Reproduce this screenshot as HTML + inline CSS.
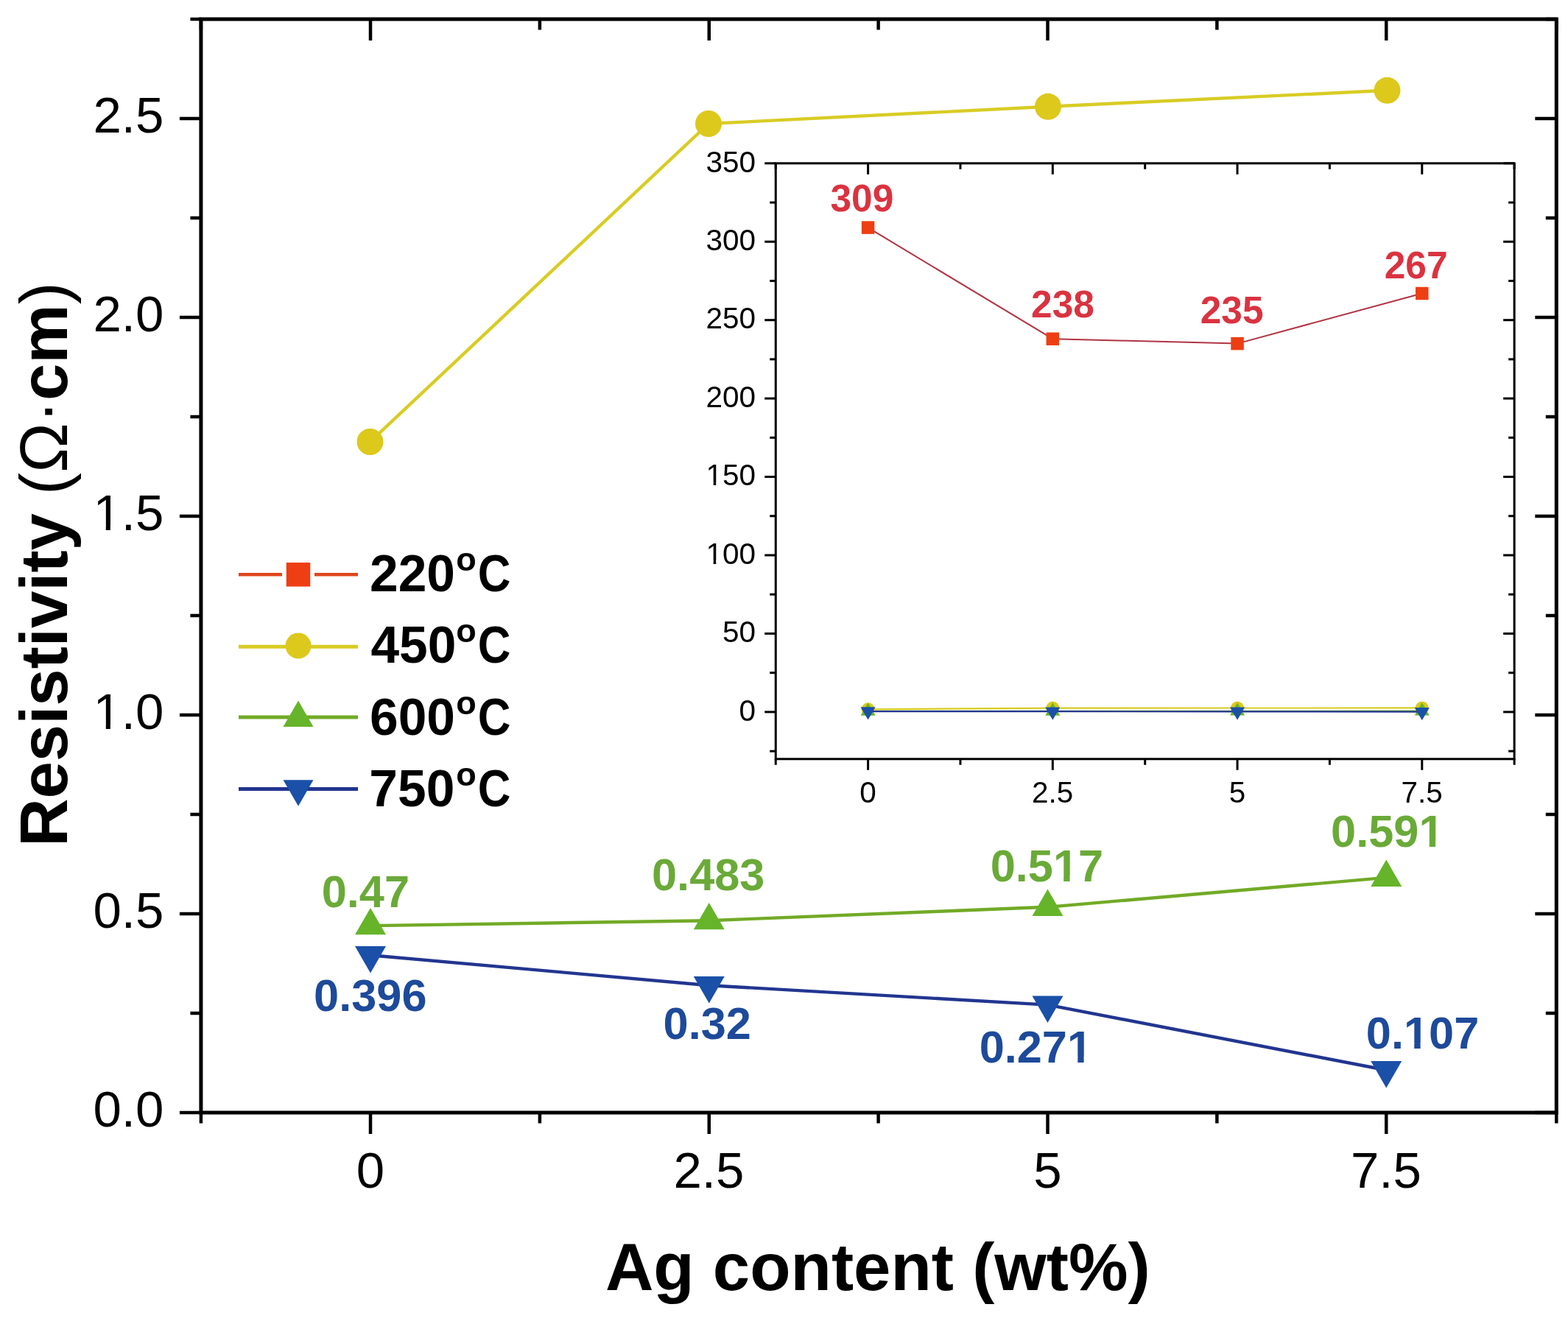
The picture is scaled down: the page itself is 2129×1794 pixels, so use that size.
<!DOCTYPE html>
<html><head><meta charset="utf-8"><title>Resistivity vs Ag content</title>
<style>
html,body{margin:0;padding:0;background:#fff;}
body{width:2129px;height:1794px;overflow:hidden;}
svg{display:block;font-family:'Liberation Sans', Arial, sans-serif;filter:blur(0.6px);}
</style></head>
<body>
<svg width="2129" height="1794" viewBox="0 0 2129 1794">
<rect x="0" y="0" width="2129" height="1794" fill="#fff"/>
<line x1="243.90" y1="1511.00" x2="272.90" y2="1511.00" stroke="#000" stroke-width="4.5" stroke-linecap="butt"/>
<line x1="2084.30" y1="1511.00" x2="2113.30" y2="1511.00" stroke="#000" stroke-width="4.5" stroke-linecap="butt"/>
<line x1="258.40" y1="1376.00" x2="272.90" y2="1376.00" stroke="#000" stroke-width="4.5" stroke-linecap="butt"/>
<line x1="2098.80" y1="1376.00" x2="2113.30" y2="1376.00" stroke="#000" stroke-width="4.5" stroke-linecap="butt"/>
<line x1="243.90" y1="1241.00" x2="272.90" y2="1241.00" stroke="#000" stroke-width="4.5" stroke-linecap="butt"/>
<line x1="2084.30" y1="1241.00" x2="2113.30" y2="1241.00" stroke="#000" stroke-width="4.5" stroke-linecap="butt"/>
<line x1="258.40" y1="1106.00" x2="272.90" y2="1106.00" stroke="#000" stroke-width="4.5" stroke-linecap="butt"/>
<line x1="2098.80" y1="1106.00" x2="2113.30" y2="1106.00" stroke="#000" stroke-width="4.5" stroke-linecap="butt"/>
<line x1="243.90" y1="971.00" x2="272.90" y2="971.00" stroke="#000" stroke-width="4.5" stroke-linecap="butt"/>
<line x1="2084.30" y1="971.00" x2="2113.30" y2="971.00" stroke="#000" stroke-width="4.5" stroke-linecap="butt"/>
<line x1="258.40" y1="836.00" x2="272.90" y2="836.00" stroke="#000" stroke-width="4.5" stroke-linecap="butt"/>
<line x1="2098.80" y1="836.00" x2="2113.30" y2="836.00" stroke="#000" stroke-width="4.5" stroke-linecap="butt"/>
<line x1="243.90" y1="701.00" x2="272.90" y2="701.00" stroke="#000" stroke-width="4.5" stroke-linecap="butt"/>
<line x1="2084.30" y1="701.00" x2="2113.30" y2="701.00" stroke="#000" stroke-width="4.5" stroke-linecap="butt"/>
<line x1="258.40" y1="566.00" x2="272.90" y2="566.00" stroke="#000" stroke-width="4.5" stroke-linecap="butt"/>
<line x1="2098.80" y1="566.00" x2="2113.30" y2="566.00" stroke="#000" stroke-width="4.5" stroke-linecap="butt"/>
<line x1="243.90" y1="431.00" x2="272.90" y2="431.00" stroke="#000" stroke-width="4.5" stroke-linecap="butt"/>
<line x1="2084.30" y1="431.00" x2="2113.30" y2="431.00" stroke="#000" stroke-width="4.5" stroke-linecap="butt"/>
<line x1="258.40" y1="296.00" x2="272.90" y2="296.00" stroke="#000" stroke-width="4.5" stroke-linecap="butt"/>
<line x1="2098.80" y1="296.00" x2="2113.30" y2="296.00" stroke="#000" stroke-width="4.5" stroke-linecap="butt"/>
<line x1="243.90" y1="161.00" x2="272.90" y2="161.00" stroke="#000" stroke-width="4.5" stroke-linecap="butt"/>
<line x1="2084.30" y1="161.00" x2="2113.30" y2="161.00" stroke="#000" stroke-width="4.5" stroke-linecap="butt"/>
<line x1="258.40" y1="26.00" x2="272.90" y2="26.00" stroke="#000" stroke-width="4.5" stroke-linecap="butt"/>
<line x1="2098.80" y1="26.00" x2="2113.30" y2="26.00" stroke="#000" stroke-width="4.5" stroke-linecap="butt"/>
<line x1="272.90" y1="1511.00" x2="272.90" y2="1525.50" stroke="#000" stroke-width="4.5" stroke-linecap="butt"/>
<line x1="272.90" y1="26.00" x2="272.90" y2="40.50" stroke="#000" stroke-width="4.5" stroke-linecap="butt"/>
<line x1="503.00" y1="1511.00" x2="503.00" y2="1540.00" stroke="#000" stroke-width="4.5" stroke-linecap="butt"/>
<line x1="503.00" y1="26.00" x2="503.00" y2="55.00" stroke="#000" stroke-width="4.5" stroke-linecap="butt"/>
<line x1="732.88" y1="1511.00" x2="732.88" y2="1525.50" stroke="#000" stroke-width="4.5" stroke-linecap="butt"/>
<line x1="732.88" y1="26.00" x2="732.88" y2="40.50" stroke="#000" stroke-width="4.5" stroke-linecap="butt"/>
<line x1="962.75" y1="1511.00" x2="962.75" y2="1540.00" stroke="#000" stroke-width="4.5" stroke-linecap="butt"/>
<line x1="962.75" y1="26.00" x2="962.75" y2="55.00" stroke="#000" stroke-width="4.5" stroke-linecap="butt"/>
<line x1="1192.62" y1="1511.00" x2="1192.62" y2="1525.50" stroke="#000" stroke-width="4.5" stroke-linecap="butt"/>
<line x1="1192.62" y1="26.00" x2="1192.62" y2="40.50" stroke="#000" stroke-width="4.5" stroke-linecap="butt"/>
<line x1="1422.50" y1="1511.00" x2="1422.50" y2="1540.00" stroke="#000" stroke-width="4.5" stroke-linecap="butt"/>
<line x1="1422.50" y1="26.00" x2="1422.50" y2="55.00" stroke="#000" stroke-width="4.5" stroke-linecap="butt"/>
<line x1="1652.38" y1="1511.00" x2="1652.38" y2="1525.50" stroke="#000" stroke-width="4.5" stroke-linecap="butt"/>
<line x1="1652.38" y1="26.00" x2="1652.38" y2="40.50" stroke="#000" stroke-width="4.5" stroke-linecap="butt"/>
<line x1="1882.25" y1="1511.00" x2="1882.25" y2="1540.00" stroke="#000" stroke-width="4.5" stroke-linecap="butt"/>
<line x1="1882.25" y1="26.00" x2="1882.25" y2="55.00" stroke="#000" stroke-width="4.5" stroke-linecap="butt"/>
<line x1="2113.30" y1="1511.00" x2="2113.30" y2="1525.50" stroke="#000" stroke-width="4.5" stroke-linecap="butt"/>
<line x1="2113.30" y1="26.00" x2="2113.30" y2="40.50" stroke="#000" stroke-width="4.5" stroke-linecap="butt"/>
<rect x="272.90" y="26.00" width="1840.40" height="1485.00" fill="none" stroke="#000" stroke-width="5.0"/>
<text x="126.45" y="1530.30" font-size="69.00" font-weight="normal" fill="#000" >0.0</text>
<text x="126.45" y="1260.30" font-size="69.00" font-weight="normal" fill="#000" >0.5</text>
<text x="126.45" y="990.30" font-size="69.00" font-weight="normal" fill="#000" >1.0</text>
<text x="126.45" y="720.30" font-size="69.00" font-weight="normal" fill="#000" >1.5</text>
<text x="126.45" y="450.30" font-size="69.00" font-weight="normal" fill="#000" >2.0</text>
<text x="126.45" y="180.30" font-size="69.00" font-weight="normal" fill="#000" >2.5</text>
<text x="483.85" y="1613.20" font-size="69.00" font-weight="normal" fill="#000" >0</text>
<text x="914.45" y="1613.20" font-size="69.00" font-weight="normal" fill="#000" >2.5</text>
<text x="1403.35" y="1613.20" font-size="69.00" font-weight="normal" fill="#000" >5</text>
<text x="1833.95" y="1613.20" font-size="69.00" font-weight="normal" fill="#000" >7.5</text>
<text x="821.93" y="1751.73" font-size="90.60" font-weight="bold" fill="#000">Ag content (wt%)</text>
<text transform="translate(90.50,1149.86) rotate(-90)" x="0" y="0" font-size="90.5" fill="#000"><tspan font-weight="bold">Resistivity </tspan><tspan font-weight="normal">(Ω·</tspan><tspan font-weight="bold">cm</tspan><tspan font-weight="normal">)</tspan></text>
<line x1="1045.24" y1="1020.12" x2="1053.24" y2="1020.12" stroke="#000" stroke-width="3.0" stroke-linecap="butt"/>
<line x1="2048.14" y1="1020.12" x2="2056.14" y2="1020.12" stroke="#000" stroke-width="3.0" stroke-linecap="butt"/>
<line x1="1038.24" y1="966.90" x2="1053.24" y2="966.90" stroke="#000" stroke-width="3.0" stroke-linecap="butt"/>
<line x1="2041.14" y1="966.90" x2="2056.14" y2="966.90" stroke="#000" stroke-width="3.0" stroke-linecap="butt"/>
<line x1="1045.24" y1="913.68" x2="1053.24" y2="913.68" stroke="#000" stroke-width="3.0" stroke-linecap="butt"/>
<line x1="2048.14" y1="913.68" x2="2056.14" y2="913.68" stroke="#000" stroke-width="3.0" stroke-linecap="butt"/>
<line x1="1038.24" y1="860.45" x2="1053.24" y2="860.45" stroke="#000" stroke-width="3.0" stroke-linecap="butt"/>
<line x1="2041.14" y1="860.45" x2="2056.14" y2="860.45" stroke="#000" stroke-width="3.0" stroke-linecap="butt"/>
<line x1="1045.24" y1="807.23" x2="1053.24" y2="807.23" stroke="#000" stroke-width="3.0" stroke-linecap="butt"/>
<line x1="2048.14" y1="807.23" x2="2056.14" y2="807.23" stroke="#000" stroke-width="3.0" stroke-linecap="butt"/>
<line x1="1038.24" y1="754.01" x2="1053.24" y2="754.01" stroke="#000" stroke-width="3.0" stroke-linecap="butt"/>
<line x1="2041.14" y1="754.01" x2="2056.14" y2="754.01" stroke="#000" stroke-width="3.0" stroke-linecap="butt"/>
<line x1="1045.24" y1="700.79" x2="1053.24" y2="700.79" stroke="#000" stroke-width="3.0" stroke-linecap="butt"/>
<line x1="2048.14" y1="700.79" x2="2056.14" y2="700.79" stroke="#000" stroke-width="3.0" stroke-linecap="butt"/>
<line x1="1038.24" y1="647.57" x2="1053.24" y2="647.57" stroke="#000" stroke-width="3.0" stroke-linecap="butt"/>
<line x1="2041.14" y1="647.57" x2="2056.14" y2="647.57" stroke="#000" stroke-width="3.0" stroke-linecap="butt"/>
<line x1="1045.24" y1="594.34" x2="1053.24" y2="594.34" stroke="#000" stroke-width="3.0" stroke-linecap="butt"/>
<line x1="2048.14" y1="594.34" x2="2056.14" y2="594.34" stroke="#000" stroke-width="3.0" stroke-linecap="butt"/>
<line x1="1038.24" y1="541.12" x2="1053.24" y2="541.12" stroke="#000" stroke-width="3.0" stroke-linecap="butt"/>
<line x1="2041.14" y1="541.12" x2="2056.14" y2="541.12" stroke="#000" stroke-width="3.0" stroke-linecap="butt"/>
<line x1="1045.24" y1="487.90" x2="1053.24" y2="487.90" stroke="#000" stroke-width="3.0" stroke-linecap="butt"/>
<line x1="2048.14" y1="487.90" x2="2056.14" y2="487.90" stroke="#000" stroke-width="3.0" stroke-linecap="butt"/>
<line x1="1038.24" y1="434.68" x2="1053.24" y2="434.68" stroke="#000" stroke-width="3.0" stroke-linecap="butt"/>
<line x1="2041.14" y1="434.68" x2="2056.14" y2="434.68" stroke="#000" stroke-width="3.0" stroke-linecap="butt"/>
<line x1="1045.24" y1="381.45" x2="1053.24" y2="381.45" stroke="#000" stroke-width="3.0" stroke-linecap="butt"/>
<line x1="2048.14" y1="381.45" x2="2056.14" y2="381.45" stroke="#000" stroke-width="3.0" stroke-linecap="butt"/>
<line x1="1038.24" y1="328.23" x2="1053.24" y2="328.23" stroke="#000" stroke-width="3.0" stroke-linecap="butt"/>
<line x1="2041.14" y1="328.23" x2="2056.14" y2="328.23" stroke="#000" stroke-width="3.0" stroke-linecap="butt"/>
<line x1="1045.24" y1="275.01" x2="1053.24" y2="275.01" stroke="#000" stroke-width="3.0" stroke-linecap="butt"/>
<line x1="2048.14" y1="275.01" x2="2056.14" y2="275.01" stroke="#000" stroke-width="3.0" stroke-linecap="butt"/>
<line x1="1038.24" y1="221.79" x2="1053.24" y2="221.79" stroke="#000" stroke-width="3.0" stroke-linecap="butt"/>
<line x1="2041.14" y1="221.79" x2="2056.14" y2="221.79" stroke="#000" stroke-width="3.0" stroke-linecap="butt"/>
<line x1="1053.24" y1="1030.77" x2="1053.24" y2="1038.77" stroke="#000" stroke-width="3.0" stroke-linecap="butt"/>
<line x1="1053.24" y1="221.79" x2="1053.24" y2="229.79" stroke="#000" stroke-width="3.0" stroke-linecap="butt"/>
<line x1="1178.60" y1="1030.77" x2="1178.60" y2="1045.77" stroke="#000" stroke-width="3.0" stroke-linecap="butt"/>
<line x1="1178.60" y1="221.79" x2="1178.60" y2="236.79" stroke="#000" stroke-width="3.0" stroke-linecap="butt"/>
<line x1="1303.96" y1="1030.77" x2="1303.96" y2="1038.77" stroke="#000" stroke-width="3.0" stroke-linecap="butt"/>
<line x1="1303.96" y1="221.79" x2="1303.96" y2="229.79" stroke="#000" stroke-width="3.0" stroke-linecap="butt"/>
<line x1="1429.32" y1="1030.77" x2="1429.32" y2="1045.77" stroke="#000" stroke-width="3.0" stroke-linecap="butt"/>
<line x1="1429.32" y1="221.79" x2="1429.32" y2="236.79" stroke="#000" stroke-width="3.0" stroke-linecap="butt"/>
<line x1="1554.69" y1="1030.77" x2="1554.69" y2="1038.77" stroke="#000" stroke-width="3.0" stroke-linecap="butt"/>
<line x1="1554.69" y1="221.79" x2="1554.69" y2="229.79" stroke="#000" stroke-width="3.0" stroke-linecap="butt"/>
<line x1="1680.05" y1="1030.77" x2="1680.05" y2="1045.77" stroke="#000" stroke-width="3.0" stroke-linecap="butt"/>
<line x1="1680.05" y1="221.79" x2="1680.05" y2="236.79" stroke="#000" stroke-width="3.0" stroke-linecap="butt"/>
<line x1="1805.41" y1="1030.77" x2="1805.41" y2="1038.77" stroke="#000" stroke-width="3.0" stroke-linecap="butt"/>
<line x1="1805.41" y1="221.79" x2="1805.41" y2="229.79" stroke="#000" stroke-width="3.0" stroke-linecap="butt"/>
<line x1="1930.78" y1="1030.77" x2="1930.78" y2="1045.77" stroke="#000" stroke-width="3.0" stroke-linecap="butt"/>
<line x1="1930.78" y1="221.79" x2="1930.78" y2="236.79" stroke="#000" stroke-width="3.0" stroke-linecap="butt"/>
<line x1="2056.14" y1="1030.77" x2="2056.14" y2="1038.77" stroke="#000" stroke-width="3.0" stroke-linecap="butt"/>
<line x1="2056.14" y1="221.79" x2="2056.14" y2="229.79" stroke="#000" stroke-width="3.0" stroke-linecap="butt"/>
<rect x="1053.24" y="221.79" width="1002.90" height="808.98" fill="#fff" fill-opacity="0" stroke="#000" stroke-width="3.0"/>
<text x="1003.44" y="978.70" font-size="40.50" font-weight="normal" fill="#000" >0</text>
<text x="980.96" y="872.25" font-size="40.50" font-weight="normal" fill="#000" >50</text>
<text x="958.49" y="765.81" font-size="40.50" font-weight="normal" fill="#000" >100</text>
<text x="958.49" y="659.37" font-size="40.50" font-weight="normal" fill="#000" >150</text>
<text x="958.49" y="552.92" font-size="40.50" font-weight="normal" fill="#000" >200</text>
<text x="958.49" y="446.48" font-size="40.50" font-weight="normal" fill="#000" >250</text>
<text x="958.49" y="340.03" font-size="40.50" font-weight="normal" fill="#000" >300</text>
<text x="958.49" y="233.59" font-size="40.50" font-weight="normal" fill="#000" >350</text>
<text x="1167.36" y="1090.00" font-size="40.50" font-weight="normal" fill="#000" >0</text>
<text x="1400.97" y="1090.00" font-size="40.50" font-weight="normal" fill="#000" >2.5</text>
<text x="1668.81" y="1090.00" font-size="40.50" font-weight="normal" fill="#000" >5</text>
<text x="1902.43" y="1090.00" font-size="40.50" font-weight="normal" fill="#000" >7.5</text>
<polyline points="1178.60,309.07 1429.32,460.22 1680.05,466.61 1930.78,398.48" fill="none" stroke="#B03444" stroke-width="2.0" stroke-linejoin="round"/>
<rect x="1169.85" y="300.32" width="17.50" height="17.50" fill="#EE3E14"/>
<rect x="1420.57" y="451.47" width="17.50" height="17.50" fill="#EE3E14"/>
<rect x="1671.30" y="457.86" width="17.50" height="17.50" fill="#EE3E14"/>
<rect x="1922.03" y="389.73" width="17.50" height="17.50" fill="#EE3E14"/>
<polyline points="1178.60,963.30 1429.32,961.60 1680.05,961.51 1930.78,961.43" fill="none" stroke="#D8CC24" stroke-width="2.2" stroke-linejoin="round"/>
<circle cx="1178.60" cy="963.30" r="9.00" fill="#DDC81C"/>
<circle cx="1429.32" cy="961.60" r="9.00" fill="#DDC81C"/>
<circle cx="1680.05" cy="961.51" r="9.00" fill="#DDC81C"/>
<circle cx="1930.78" cy="961.43" r="9.00" fill="#DDC81C"/>
<polyline points="1178.60,965.90 1429.32,965.87 1680.05,965.80 1930.78,965.64" fill="none" stroke="#72AA26" stroke-width="2.2" stroke-linejoin="round"/>
<polygon points="1178.60,954.35 1188.60,971.67 1168.60,971.67" fill="#66B42A"/>
<polygon points="1429.32,954.32 1439.32,971.65 1419.32,971.65" fill="#66B42A"/>
<polygon points="1680.05,954.25 1690.05,971.57 1670.05,971.57" fill="#66B42A"/>
<polygon points="1930.78,954.09 1940.78,971.42 1920.78,971.42" fill="#66B42A"/>
<polyline points="1178.60,966.06 1429.32,966.22 1680.05,966.32 1930.78,966.67" fill="none" stroke="#223590" stroke-width="2.2" stroke-linejoin="round"/>
<polygon points="1178.60,977.60 1188.60,960.28 1168.60,960.28" fill="#1A50A8"/>
<polygon points="1429.32,977.77 1439.32,960.45 1419.32,960.45" fill="#1A50A8"/>
<polygon points="1680.05,977.87 1690.05,960.55 1670.05,960.55" fill="#1A50A8"/>
<polygon points="1930.78,978.22 1940.78,960.90 1920.78,960.90" fill="#1A50A8"/>
<text x="1127.48" y="287.37" font-size="51.50" font-weight="bold" fill="#DA3340">309</text>
<text x="1400.00" y="431.42" font-size="51.50" font-weight="bold" fill="#DA3340">238</text>
<text x="1629.67" y="438.97" font-size="51.50" font-weight="bold" fill="#DA3340">235</text>
<text x="1879.68" y="378.17" font-size="51.50" font-weight="bold" fill="#DA3340">267</text>
<polyline points="502.50,600.00 962.00,168.00 1423.00,144.80 1883.50,122.80" fill="none" stroke="#D8CC24" stroke-width="4.4" stroke-linejoin="round"/>
<circle cx="502.50" cy="600.00" r="18.00" fill="#DDC81C"/>
<circle cx="962.00" cy="168.00" r="18.00" fill="#DDC81C"/>
<circle cx="1423.00" cy="144.80" r="18.00" fill="#DDC81C"/>
<circle cx="1883.50" cy="122.80" r="18.00" fill="#DDC81C"/>
<polyline points="503.00,1257.20 962.75,1250.18 1422.50,1231.82 1882.25,1191.86" fill="none" stroke="#72AA26" stroke-width="4.4" stroke-linejoin="round"/>
<polygon points="503.00,1232.95 524.00,1269.32 482.00,1269.32" fill="#66B42A"/>
<polygon points="962.75,1225.93 983.75,1262.30 941.75,1262.30" fill="#66B42A"/>
<polygon points="1422.50,1207.57 1443.50,1243.94 1401.50,1243.94" fill="#66B42A"/>
<polygon points="1882.25,1167.61 1903.25,1203.98 1861.25,1203.98" fill="#66B42A"/>
<polyline points="503.00,1297.16 962.75,1338.20 1422.50,1364.66 1882.25,1453.22" fill="none" stroke="#223590" stroke-width="4.4" stroke-linejoin="round"/>
<polygon points="503.00,1321.41 524.00,1285.04 482.00,1285.04" fill="#1A50A8"/>
<polygon points="962.75,1362.45 983.75,1326.08 941.75,1326.08" fill="#1A50A8"/>
<polygon points="1422.50,1388.91 1443.50,1352.54 1401.50,1352.54" fill="#1A50A8"/>
<polygon points="1882.25,1477.47 1903.25,1441.10 1861.25,1441.10" fill="#1A50A8"/>
<text x="436.69" y="1231.55" font-size="61.30" font-weight="bold" fill="#6AAA38">0.47</text>
<text x="885.02" y="1208.65" font-size="61.30" font-weight="bold" fill="#6AAA38">0.483</text>
<text x="1344.68" y="1197.25" font-size="61.30" font-weight="bold" fill="#6AAA38">0.517</text>
<text x="1807.12" y="1150.45" font-size="61.30" font-weight="bold" fill="#6AAA38">0.591</text>
<text x="426.12" y="1372.65" font-size="61.30" font-weight="bold" fill="#1D4A9A">0.396</text>
<text x="900.59" y="1411.30" font-size="61.30" font-weight="bold" fill="#1D4A9A">0.32</text>
<text x="1329.67" y="1443.10" font-size="61.30" font-weight="bold" fill="#1D4A9A">0.271</text>
<text x="1854.83" y="1424.15" font-size="61.30" font-weight="bold" fill="#1D4A9A">0.107</text>
<line x1="324.00" y1="780.30" x2="383.00" y2="780.30" stroke="#E0441C" stroke-width="4.5" stroke-linecap="butt"/>
<line x1="427.00" y1="780.30" x2="486.00" y2="780.30" stroke="#E0441C" stroke-width="4.5" stroke-linecap="butt"/>
<rect x="388.75" y="764.05" width="32.50" height="32.50" fill="#EE3E14"/>
<line x1="324.00" y1="878.30" x2="486.00" y2="878.30" stroke="#D8CC24" stroke-width="5" stroke-linecap="butt"/>
<circle cx="405.00" cy="877.00" r="17.50" fill="#DDC81C"/>
<line x1="324.00" y1="974.00" x2="486.00" y2="974.00" stroke="#72AA26" stroke-width="5" stroke-linecap="butt"/>
<polygon points="405.00,951.53 425.50,987.04 384.50,987.04" fill="#66B42A"/>
<line x1="324.00" y1="1071.40" x2="486.00" y2="1071.40" stroke="#223590" stroke-width="5" stroke-linecap="butt"/>
<polygon points="405.00,1094.67 425.50,1059.16 384.50,1059.16" fill="#1A50A8"/>
<text x="502.07" y="802.50" font-size="69.50" font-weight="bold" fill="#000" >220</text>
<text x="619.27" y="774.80" font-size="45.00" font-weight="bold" fill="#000" >o</text>
<text transform="translate(648.83,802.50) scale(0.8897,1)" x="0" y="0" font-size="69.5" font-weight="bold" fill="#000">C</text>
<text x="503.46" y="900.00" font-size="69.50" font-weight="bold" fill="#000" >450</text>
<text x="619.27" y="872.30" font-size="45.00" font-weight="bold" fill="#000" >o</text>
<text transform="translate(648.83,900.00) scale(0.8897,1)" x="0" y="0" font-size="69.5" font-weight="bold" fill="#000">C</text>
<text x="502.07" y="997.50" font-size="69.50" font-weight="bold" fill="#000" >600</text>
<text x="619.27" y="969.80" font-size="45.00" font-weight="bold" fill="#000" >o</text>
<text transform="translate(648.83,997.50) scale(0.8897,1)" x="0" y="0" font-size="69.5" font-weight="bold" fill="#000">C</text>
<text x="501.37" y="1095.00" font-size="69.50" font-weight="bold" fill="#000" >750</text>
<text x="619.27" y="1067.30" font-size="45.00" font-weight="bold" fill="#000" >o</text>
<text transform="translate(648.83,1095.00) scale(0.8897,1)" x="0" y="0" font-size="69.5" font-weight="bold" fill="#000">C</text>
<rect x="129.94" y="983.52" width="13.83" height="7.98" fill="#fff"/>
<rect x="149.84" y="983.52" width="13.28" height="7.98" fill="#fff"/>
<rect x="129.94" y="713.52" width="13.83" height="7.98" fill="#fff"/>
<rect x="149.84" y="713.52" width="13.28" height="7.98" fill="#fff"/>
<rect x="960.04" y="761.25" width="8.61" height="5.76" fill="#fff"/>
<rect x="972.22" y="761.25" width="8.29" height="5.76" fill="#fff"/>
<rect x="960.04" y="654.81" width="8.61" height="5.76" fill="#fff"/>
<rect x="972.22" y="654.81" width="8.29" height="5.76" fill="#fff"/>
<rect x="1432.07" y="1189.29" width="12.11" height="9.16" fill="#fff"/>
<rect x="1452.57" y="1189.29" width="11.31" height="9.16" fill="#fff"/>
<rect x="1928.60" y="1142.49" width="12.11" height="9.16" fill="#fff"/>
<rect x="1949.10" y="1142.49" width="11.31" height="9.16" fill="#fff"/>
<rect x="1451.15" y="1435.14" width="12.11" height="9.16" fill="#fff"/>
<rect x="1471.65" y="1435.14" width="11.31" height="9.16" fill="#fff"/>
<rect x="1908.12" y="1416.19" width="12.11" height="9.16" fill="#fff"/>
<rect x="1928.63" y="1416.19" width="11.31" height="9.16" fill="#fff"/>
</svg>
</body></html>
